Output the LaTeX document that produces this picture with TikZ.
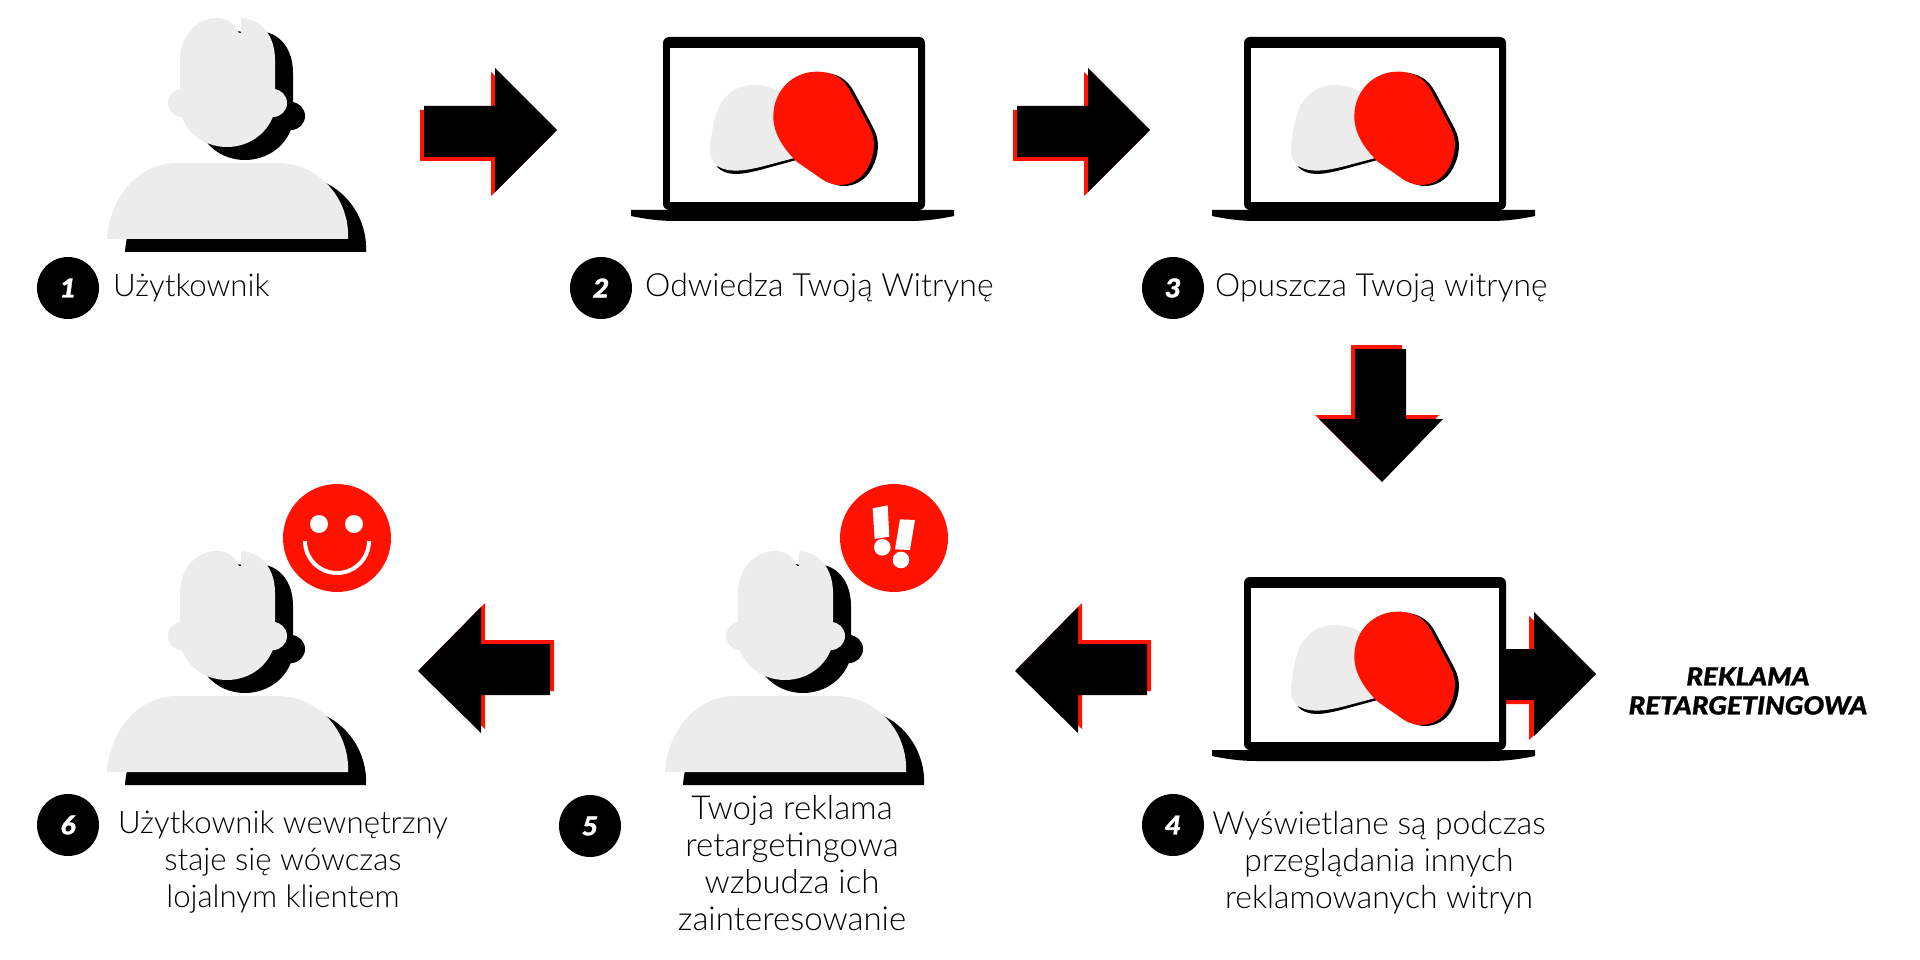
\documentclass[tikz,border=0pt]{standalone}
\usepackage{fontspec}
\setmainfont{Lato}[UprightFont=* Light,BoldFont=* Black,ItalicFont=* Light Italic,BoldItalicFont=* Black Italic]
\newfontfamily\heavyfont{Lato Black Italic}[FakeBold=1,FakeStretch=1.1]
\definecolor{rd}{HTML}{FF1200}
\definecolor{gy}{HTML}{ECECEC}
\tikzset{
 x=1pt,y=-1pt,
 lbl/.style={font=\fontsize{31.8}{37}\selectfont,inner sep=0pt,align=center,text=black},
 lbll/.style={lbl,anchor=base west},
 numdot/.style={circle,fill=black,minimum size=62pt,inner sep=0pt,text=white,font=\fontsize{26}{26}\selectfont\heavyfont},
 person/.pic={
  \foreach \dx/\dy/\c in {18/13/black,0/0/gy}{
   \begin{scope}[shift={(\dx,\dy)}]
   \fill[\c] (180,60) .. controls (180,35) and (197,18) .. (217,18) .. controls (228,18) and (235,24) .. (239,33)
     -- (241,33) -- (241,18) .. controls (261,19) and (275,35) .. (275,60) -- (275,110)
     .. controls (270,132) and (250,147) .. (227,147) .. controls (204,147) and (184,132) .. (180,110) -- cycle;
   \fill[\c] (273,103) circle (14) (182,103) circle (14);
   \fill[\c] (107,239) .. controls (110,195) and (140,163) .. (177,163) -- (277,163)
     .. controls (320,163) and (350,200) .. (348,239) -- cycle;
   \end{scope}
  }
 },
 laptop/.pic={
  \fill[black,rounded corners=6] (663,210) -- (663,37) -- (925,37) -- (925,210) -- cycle;
  \fill[white] (670,48) rectangle (918,202);
  \fill[black] (631,210) -- (954,210) -- (954,216) .. controls (940,219) and (925,221) .. (910,221)
     -- (675,221) .. controls (660,221) and (645,219) .. (631,216) -- cycle;
  \begin{scope}[shift={(620,20)},x=0.3333pt,y=-0.3333pt]
   \fill[black] (290,440) .. controls (320,470) and (360,465) .. (420,450) -- (530,420) -- (500,380) -- cycle;
   \fill[gy] (400,195) .. controls (450,195) and (500,215) .. (520,270) .. controls (530,320) and (530,390) .. (520,415)
     -- (440,436) .. controls (380,452) and (330,460) .. (295,440) .. controls (275,425) and (268,405) .. (270,385)
     .. controls (275,340) and (280,300) .. (295,265) .. controls (315,220) and (355,195) .. (400,195) -- cycle;
   \begin{scope}[shift={(12,3)}]
    \fill[black] (590,155) .. controls (640,155) and (670,175) .. (690,212) .. controls (710,250) and (730,285) .. (750,325)
     .. controls (768,360) and (765,400) .. (745,440) .. controls (725,480) and (690,495) .. (660,495) .. controls (635,495) and (615,485) .. (595,470) -- (530,425)
     .. controls (490,385) and (460,340) .. (460,290) .. controls (460,210) and (520,155) .. (590,155) -- cycle;
   \end{scope}
   \fill[rd] (590,155) .. controls (640,155) and (670,175) .. (690,212) .. controls (710,250) and (730,285) .. (750,325)
     .. controls (768,360) and (765,400) .. (745,440) .. controls (725,480) and (690,495) .. (660,495) .. controls (635,495) and (615,485) .. (595,470) -- (530,425)
     .. controls (490,385) and (460,340) .. (460,290) .. controls (460,210) and (520,155) .. (590,155) -- cycle;
  \end{scope}
 },
 rarrow/.pic={
  \foreach \dx/\dy/\c in {-4/4/rd,0/0/black}{
   \fill[\c,shift={(\dx,\dy)}] (424,106) -- (495,106) -- (495,68) -- (557,130) -- (495,192) -- (495,157) -- (424,157) -- cycle;
  }
 },
 larrow/.pic={
  \foreach \dx/\dy/\c in {4/-4/rd,0/0/black}{
   \fill[\c,shift={(\dx,\dy)}] (550,644) -- (481,644) -- (481,607) -- (418,671) -- (481,733) -- (481,695) -- (550,695) -- cycle;
  }
 }
}
\begin{document}
\begin{tikzpicture}
\useasboundingbox (0,0) rectangle (1920,960);
% people
\pic (p1) at (0,0) {person};
\pic (p6) at (0,533) {person};
\pic (p5) at (558,533) {person};
% laptops
\pic (l2) at (0,0) {laptop};
\pic (l3) at (581,0) {laptop};
% arrows
\pic (a1) at (0,0) {rarrow};
\pic (a2) at (593,0) {rarrow};
\pic (a4) at (0,0) {larrow};
\pic (a5) at (597,0) {larrow};
% down arrow
\foreach \dx/\dy/\c in {-4/-4/rd,0/0/black}{
 \fill[\c,shift={(\dx,\dy)}] (1355,349) -- (1406,349) -- (1406,419) -- (1443,419) -- (1382,482) -- (1319,419) -- (1355,419) -- cycle;
}
% arrow to label
\fill[rd] (1500,653) -- (1529,653) -- (1529,616) -- (1591,678) -- (1529,740) -- (1529,704) -- (1500,704) -- cycle;
\fill[black] (1500,649) -- (1534,649) -- (1534,612) -- (1596,674) -- (1534,736) -- (1534,700) -- (1500,700) -- cycle;
\pic (l4) at (581,540) {laptop};
% number dots
\node[numdot] (n1) at (68,288) {1};
\node[numdot] (n2) at (601,288) {2};
\node[numdot] (n3) at (1173,288) {3};
\node[numdot] (n4) at (1173,825) {4};
\node[numdot] (n5) at (590,826) {5};
\node[numdot] (n6) at (68,825) {6};
% labels
\node[lbll,font=\fontsize{31.2}{37}\selectfont] (t1) at (113,296) {Użytkownik};
\node[lbll,font=\fontsize{32}{37}\selectfont] (t2) at (645,296) {Odwiedza Twoją Witrynę};
\node[lbll] (t3) at (1215,296) {Opuszcza Twoją witrynę};
\node[lbl] (t4) at (1379,862.5) {Wyświetlane są podczas\\przeglądania innych\\reklamowanych witryn};
\node[lbl,font=\fontsize{33}{37}\selectfont] (t5) at (792,863.5) {Twoja reklama\\retargetingowa\\wzbudza ich\\zainteresowanie};
\node[lbl,font=\fontsize{31.2}{37}\selectfont] (t6) at (283,862.5) {Użytkownik wewnętrzny\\staje się wówczas\\lojalnym klientem};
\node[inner sep=0pt,align=center,font=\fontsize{25}{29}\selectfont\heavyfont] (t7) at (1748,691) {REKLAMA\\RETARGETINGOWA};
% smile
\node[circle,fill=rd,minimum size=108pt,inner sep=0pt] (s1) at (337,538) {};
\fill[white] (319,524) circle (9) (354,524) circle (9);
\draw[white,line width=4pt] (305,541) arc[start angle=180,end angle=360,x radius=32,y radius=-32];
% exclaim
\node[circle,fill=rd,minimum size=108pt,inner sep=0pt] (s2) at (894,538) {};
\begin{scope}[shift={(800,470)},x=0.3333pt,y=-0.3333pt]
 \fill[white] (218,115) -- (263,106) -- (268,200) -- (224,207) -- cycle;
 \fill[white] (247,232) circle (25);
 \fill[white] (300,148) -- (345,150) -- (330,240) -- (285,238) -- cycle;
 \fill[white] (303,270) circle (25);
\end{scope}
\end{tikzpicture}
\end{document}
